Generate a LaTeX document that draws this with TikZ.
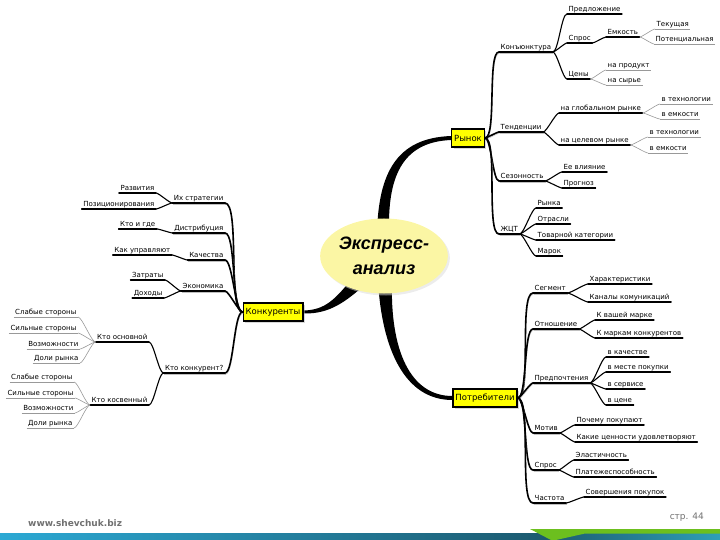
\documentclass[tikz,border=0pt]{standalone}
\usepackage{fontspec}
\setmainfont{DejaVu Sans}
\newfontfamily\hubfont{Liberation Sans}
\usepackage{tikz}
\usetikzlibrary{
  shapes.geometric,
  shadows,
  calc,
  backgrounds
}
\definecolor{topicyellow}{HTML}{FFFF00}
\definecolor{hubyellow}{HTML}{FBF6A4}
\definecolor{footgray}{HTML}{707070}
\definecolor{bandlight}{HTML}{2CA9D4}
\definecolor{banddark}{HTML}{1C5A6F}
\definecolor{bandteal}{HTML}{2E9FB8}
\definecolor{bandgreen}{HTML}{6CBF1E}

\begin{document}
\begin{tikzpicture}[x=1pt, y=-1pt,
  lab/.style={font=\fontsize{7}{8}\selectfont, inner xsep=1.5pt, inner ysep=1.2pt, text height=5.3pt, text depth=1.2pt},
  topic/.style={draw, fill=topicyellow, line width=1.2pt, font=\fontsize{8.5}{10}\selectfont, inner xsep=2.5pt, minimum height=18pt,
    drop shadow={shadow xshift=2pt, shadow yshift=-2pt, fill=black!30}},
  hub/.style={ellipse, fill=hubyellow, minimum width=102pt, minimum height=75pt, inner sep=0pt, align=center,
    font=\hubfont\bfseries\itshape\fontsize{18}{25}\selectfont,
    drop shadow={shadow xshift=2pt, shadow yshift=-2pt, fill=black!15}},
  lone/.style={line width=1.6pt, line cap=round, preaction={draw=black!25, transform canvas={shift={(0.6pt,-1.3pt)}}}},
  ltwo/.style={line width=1.1pt, line cap=round},
  lthree/.style={line width=0.6pt, black!40},
  rr/.style={out=0, in=180, looseness=0.35},
  ll/.style={out=180, in=0, looseness=0.35},
  foot/.style={font=\fontsize{9}{10}\selectfont, text=footgray, inner sep=0pt}
]
  \useasboundingbox (0,0) rectangle (720,540);

  % 中心
  \node[hub] (hub) at (384,256) {Экспресс-\\анализ};
  % 主题
  \node[topic] (ryn) at (468,138) {Рынок};
  \node[topic] (kk) at (273,312) {Конкуренты};
  \node[topic] (potr) at (485,398) {Потребители};

  % 粗连线
  \begin{scope}[on background layer]
    \fill ($(hub.center)+(-7,-25)$) .. controls (379,175) and (395,138) .. ($(ryn.west)+(0,-2)$)
      -- ($(ryn.west)+(0,2)$) .. controls (400,142) and (388,180) .. ($(hub.center)+(5,-25)$) -- cycle;
    \fill ($(hub.center)+(-30,20)$) .. controls (335,300) and (325,310) .. ($(kk.east)+(0,-1.5)$)
      -- ($(kk.east)+(0,1.5)$) .. controls (330,314) and (345,302) .. ($(hub.center)+(-18,28)$) -- cycle;
    \fill ($(hub.center)+(-6,25)$) .. controls (382,350) and (405,400) .. ($(potr.west)+(0,2)$)
      -- ($(potr.west)+(0,-2)$) .. controls (410,396) and (390,350) .. ($(hub.center)+(8,25)$) -- cycle;
  \end{scope}

  % 右侧一级
  \foreach \nm/\x/\y/\txt in {kon/499/52/Конъюнктура, ten/499/132/Тенденции, sez/499/181/Сезонность, zhct/499/234/ЖЦТ,
      segm/533/293/Сегмент, otn/533/329/Отношение, predp/533/383/Предпочтения, motiv/533/433/Мотив,
      spros/533/470/Спрос, chast/533/503/Частота}
    {\node[lab, anchor=south west] (\nm) at (\x,\y) {\txt};
     \draw[lone] (\nm.south west) -- (\nm.south east);}
  % 右侧二级
  \foreach \nm/\x/\y/\txt in {pred/567/14/Предложение, spr/567/43/Спрос, cen/567/79/Цены, emk/606/37/Емкость,
      glob/559/113/на глобальном рынке, cel/559/145/на целевом рынке, vl/562/172/Ее влияние, prog/562/188/Прогноз,
      rynka/536/208/Рынка, otr/536/224/Отрасли, tov/536/240/Товарной категории, mar/536/256/Марок,
      har/588/284/Характеристики, kan/588/302/Каналы комуникаций, kvash/595/320/К вашей марке,
      kmark/595/338/К маркам конкурентов, vkach/606/357/в качестве, vmest/606/372/в месте покупки,
      vserv/606/389/в сервисе, vcen/606/405/в цене, pochemu/575/425/Почему покупают,
      kakie/575/442/Какие ценности удовлетворяют, elast/574/460/Эластичность, plat/574/477/Платежеспособность,
      sover/584/497/Совершения покупок}
    {\node[lab, anchor=south west] (\nm) at (\x,\y) {\txt};
     \draw[ltwo] (\nm.south west) -- (\nm.south east);}
  % 右侧三级
  \foreach \nm/\x/\y/\txt in {tek/655/29/Текущая, pot/654/44/Потенциальная, nprod/606/70/на продукт, nsyr/606/85/на сырье,
      gt/660/104/в технологии, ge/660/119/в емкости, ct/648/137/в технологии, ce/648/153/в емкости}
    {\node[lab, anchor=south west] (\nm) at (\x,\y) {\txt};
     \draw[lthree] (\nm.south west) -- (\nm.south east);}

  % 左侧一级
  \foreach \nm/\x/\y/\txt in {strat/225/203/Их стратегии, distr/225/233/Дистрибуция, kach/225/260/Качества,
      ekon/225/291/Экономика, kto/225/373/Кто конкурент?}
    {\node[lab, anchor=south east] (\nm) at (\x,\y) {\txt};
     \draw[lone] (\nm.south west) -- (\nm.south east);}
  % 左侧二级
  \foreach \nm/\x/\y/\txt in {razv/156/193/Развития, poz/156/209/Позиционирования, ktogde/157/229/Кто и где,
      kakupr/172/255/Как управляют, zatr/165/280/Затраты, doh/164/298/Доходы,
      osn/149/342/Кто основной, kosv/149/405/Кто косвенный}
    {\node[lab, anchor=south east] (\nm) at (\x,\y) {\txt};
     \draw[ltwo] (\nm.south west) -- (\nm.south east);}
  % 左侧三级
  \foreach \nm/\x/\y/\txt in {osn1/78/317/Слабые стороны, osn2/78/333/Сильные стороны, osn3/80/349/Возможности,
      osn4/80/363/Доли рынка, kos1/74/382/Слабые стороны, kos2/75/398/Сильные стороны,
      kos3/75/413/Возможности, kos4/74/428/Доли рынка}
    {\node[lab, anchor=south east] (\nm) at (\x,\y) {\txt};
     \draw[lthree] (\nm.south west) -- (\nm.south east);}

  % 分支连线
  \foreach \a/\b in {ryn/kon, ryn/ten, ryn/sez, ryn/zhct, potr/segm, potr/otn, potr/predp, potr/motiv, potr/spros, potr/chast}
    \draw[lone, rr] (\a.east) to (\b.south west);
  \foreach \a/\b in {kk/strat, kk/distr, kk/kach, kk/ekon, kk/kto}
    \draw[lone, ll] (\a.west) to (\b.south east);
  \foreach \a/\b in {kon/pred, kon/spr, kon/cen, spr/emk, ten/glob, ten/cel, sez/vl, sez/prog,
      zhct/rynka, zhct/otr, zhct/tov, zhct/mar, segm/har, segm/kan, otn/kvash, otn/kmark,
      predp/vkach, predp/vmest, predp/vserv, predp/vcen, motiv/pochemu, motiv/kakie,
      spros/elast, spros/plat, chast/sover}
    \draw[ltwo, rr] (\a.south east) to (\b.south west);
  \foreach \a/\b in {emk/tek, emk/pot, cen/nprod, cen/nsyr, glob/gt, glob/ge, cel/ct, cel/ce}
    \draw[lthree, rr] (\a.south east) to (\b.south west);
  \foreach \a/\b in {strat/razv, strat/poz, distr/ktogde, kach/kakupr, ekon/zatr, ekon/doh, kto/osn, kto/kosv}
    \draw[ltwo, ll] (\a.south west) to (\b.south east);
  \foreach \a/\b in {osn/osn1, osn/osn2, osn/osn3, osn/osn4, kosv/kos1, kosv/kos2, kosv/kos3, kosv/kos4}
    \draw[lthree, ll] (\a.south west) to (\b.south east);

  % 页脚
  \shade[left color=bandlight, right color=banddark] (0,533) rectangle (545,540);
  \shade[left color=banddark, right color=bandteal] (545,533) rectangle (720,540);
  \fill[bandgreen] (530,529) -- (720,529) -- (720,533.5) -- (585,533.5) -- (556,540) -- (551,540) -- cycle;
  \node[foot, font=\fontsize{9}{10}\selectfont\bfseries, anchor=west] (site) at (28,523) {www.shevchuk.biz};
  \node[foot, anchor=east] (page) at (704,517) {стр. 44};
\end{tikzpicture}
\end{document}
